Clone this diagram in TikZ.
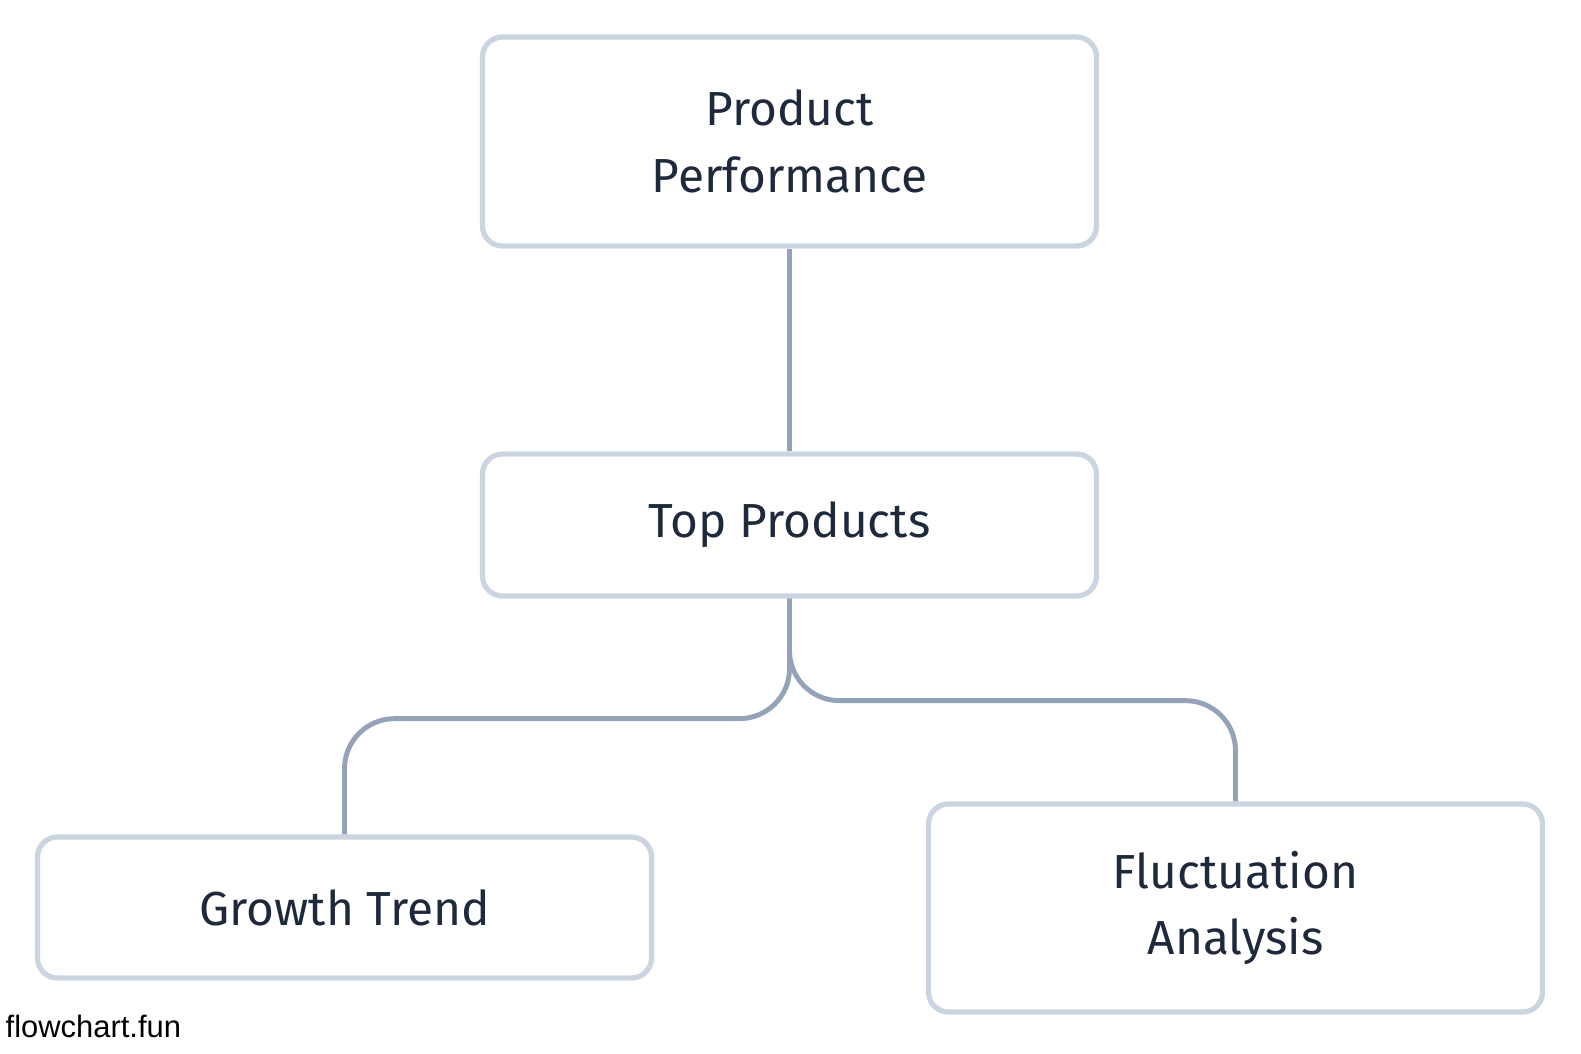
\documentclass[tikz,border=0pt]{standalone}
\usepackage{fontspec}
\setmainfont{Fira Sans}
\newfontfamily\markfont{Liberation Sans}
\definecolor{boxline}{HTML}{CBD5E1}
\definecolor{linkline}{HTML}{94A3B8}
\definecolor{boxtext}{HTML}{1E293B}

\tikzset{
  card/.style={rectangle, draw=boxline, line width=1.5pt, rounded corners=0.2cm,
    minimum width=6.14cm, text=boxtext, align=center,
    font=\fontsize{13.6}{19}\selectfont},
  link/.style={draw=linkline, line width=1.4pt, rounded corners=0.5cm}
}

\begin{document}
\begin{tikzpicture}
    \useasboundingbox (0,0) rectangle (15.81,-10.53);

    % Kästen
    \node[card, minimum height=2.09cm] (perf) at (7.895, -1.415) {Product\\Performance};
    \node[card, minimum height=1.42cm] (top) at (7.895, -5.25) {Top Products};
    \node[card, minimum height=1.41cm] (growth) at (3.445, -9.075) {Growth Trend};
    \node[card, minimum height=2.08cm] (fluct) at (12.355, -9.08) {Fluctuation\\Analysis};

    % Verbindungen
    \draw[link] (perf) -- (top);
    \draw[link] (top.south) -- ++(0,-1.2) -| (growth.north);
    \draw[link] (top.south) -- ++(0,-1.02) -| (fluct.north);

    % Fußzeile
    \node[anchor=base west, inner sep=0pt, font=\markfont\fontsize{8.8}{10}\selectfont] (mark) at (0.05, -10.37) {flowchart.fun};
\end{tikzpicture}
\end{document}
